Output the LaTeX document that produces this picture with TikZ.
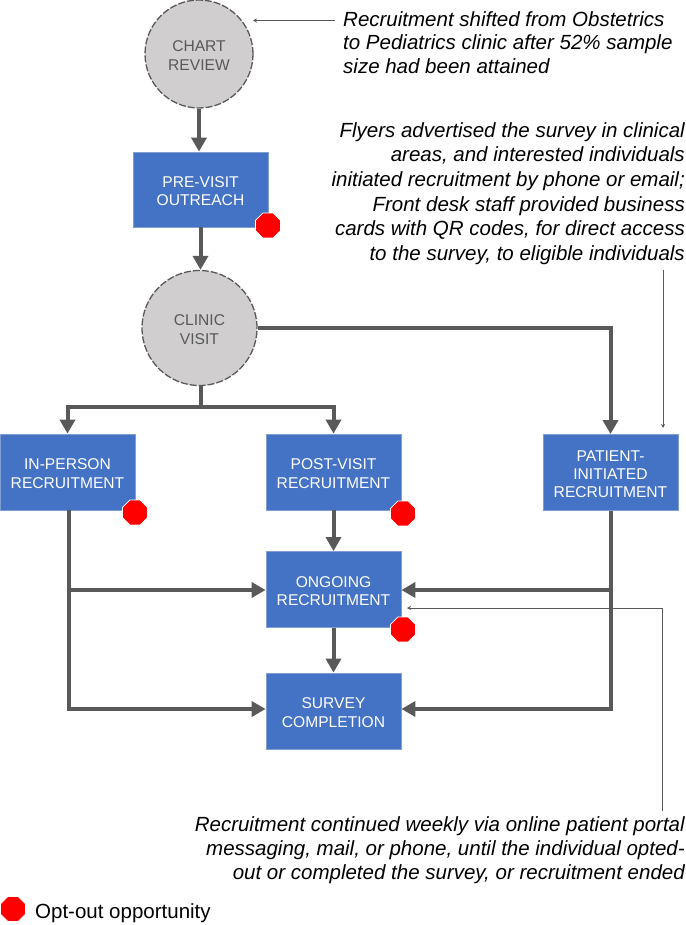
\documentclass[tikz,border=0pt]{standalone}
\usepackage{fontspec}
\setmainfont{Liberation Sans}
\usetikzlibrary{arrows.meta,shapes.geometric}
\definecolor{boxblue}{HTML}{4472C4}
\definecolor{boxedge}{HTML}{7F9FD0}
\definecolor{circfill}{HTML}{D0CECE}
\definecolor{darkg}{HTML}{595959}
\newcommand{\toppad}{\rule{0pt}{14pt}}
\tikzset{
  x=1pt,y=-1pt,
  boxn/.style={draw=boxedge,line width=0.8pt,fill=boxblue,text=white,minimum width=135pt,minimum height=76pt,inner sep=0pt,align=center,font=\fontsize{15.6}{18.2}\selectfont},
  circn/.style={circle,draw=darkg,dashed,dash pattern=on 7pt off 2pt,line width=1.3pt,fill=circfill,text=darkg,inner sep=0pt,align=center,font=\fontsize{15.6}{18.2}\selectfont},
  stopn/.style={regular polygon,regular polygon sides=8,draw=white,line width=0.8pt,fill=red,minimum size=27pt,inner sep=0pt},
  thick flow/.style={draw=darkg,line width=4pt,-{Triangle[length=14pt,width=15pt]}},
  plain flow/.style={draw=darkg,line width=4pt},
  thin note/.style={draw=darkg,line width=0.9pt,-{Stealth[length=4pt,width=4pt]}},
  note/.style={inner sep=0pt,font=\fontsize{20.5}{24.4}\selectfont\itshape},
}
\begin{document}
\begin{tikzpicture}
\useasboundingbox (0,0) rectangle (685,925);
\node[circn,minimum size=108pt] (chart) at (199,54) {\toppad CHART\\REVIEW};
\node[boxn,minimum height=75pt] (pre) at (200.5,189.5) {\toppad PRE-VISIT\\OUTREACH};
\node[circn,minimum size=115pt] (clinic) at (199.5,328) {\toppad CLINIC\\VISIT};
\node[boxn] (inperson) at (67.5,472) {\toppad IN-PERSON\\RECRUITMENT};
\node[boxn] (post) at (333.5,472) {\toppad POST-VISIT\\RECRUITMENT};
\node[boxn] (patient) at (610.5,472.5) {\toppad PATIENT-\\INITIATED\\RECRUITMENT};
\node[boxn] (ongoing) at (333.5,589.5) {\toppad ONGOING\\RECRUITMENT};
\node[boxn] (survey) at (333.5,711) {\toppad SURVEY\\COMPLETION};
\node[stopn] (s1) at (268,225.5) {};
\node[stopn] (s2) at (135,512.5) {};
\node[stopn] (s3) at (403,513.5) {};
\node[stopn] (s4) at (403,629.5) {};
\node[stopn] (s5) at (13,909) {};
\node[anchor=west,inner sep=0pt,font=\fontsize{20.5}{24}\selectfont] (legend) at (35,913) {Opt-out opportunity};
\node[note,anchor=north west,align=left,font=\fontsize{20.5}{23.6}\selectfont\itshape] (n1) at (343,11) {Recruitment shifted from Obstetrics\\to Pediatrics clinic after 52\% sample\\size had been attained};
\node[note,anchor=north east,align=right,font=\fontsize{20.5}{24.7}\selectfont\itshape] (n2) at (685,122) {Flyers advertised the survey in clinical\\areas, and interested individuals\\initiated recruitment by phone or email;\\Front desk staff provided business\\cards with QR codes, for direct access\\to the survey, to eligible individuals};
\node[note,anchor=north east,align=right] (n3) at (685,816) {Recruitment continued weekly via online patient portal\\messaging, mail, or phone, until the individual opted-\\out or completed the survey, or recruitment ended};
% thick connectors
\draw[thick flow] (chart.south) -- (chart.south |- pre.north);
\draw[thick flow] (pre.south) -- (pre.south |- clinic.north);
\coordinate (fork) at (201,407);
\draw[plain flow] (fork |- clinic.south) -- (fork);
\draw[thick flow] (fork) -| (inperson.north);
\draw[thick flow] (fork) -| (post.north);
\draw[thick flow] (clinic.east) -| (patient.north);
\draw[thick flow] (post.south) -- (ongoing.north);
\draw[thick flow] (ongoing.south) -- (survey.north);
\coordinate (lefthi) at (69,590);
\coordinate (leftlo) at (69,709);
\draw[thick flow] (inperson.south -| lefthi) -- (lefthi) -- (lefthi -| ongoing.west);
\draw[thick flow] (lefthi) -- (leftlo) -- (leftlo -| survey.west);
\coordinate (righthi) at (610.5,590);
\coordinate (rightlo) at (610.5,709);
\draw[thick flow] (patient.south) -- (righthi) -- (righthi -| ongoing.east);
\draw[thick flow] (righthi) -- (rightlo) -- (rightlo -| survey.east);
% annotation leaders
\coordinate (a1) at (335,20.5);
\coordinate (a1e) at (253,20.5);
\draw[thin note] (a1) -- (a1e);
\coordinate (a2) at (663,270);
\coordinate (a2e) at (663,428);
\draw[thin note] (a2) -- (a2e);
\coordinate (a3) at (662,811);
\coordinate (a3e) at (407,608);
\draw[thin note] (a3) |- (a3e);
\end{tikzpicture}
\end{document}
